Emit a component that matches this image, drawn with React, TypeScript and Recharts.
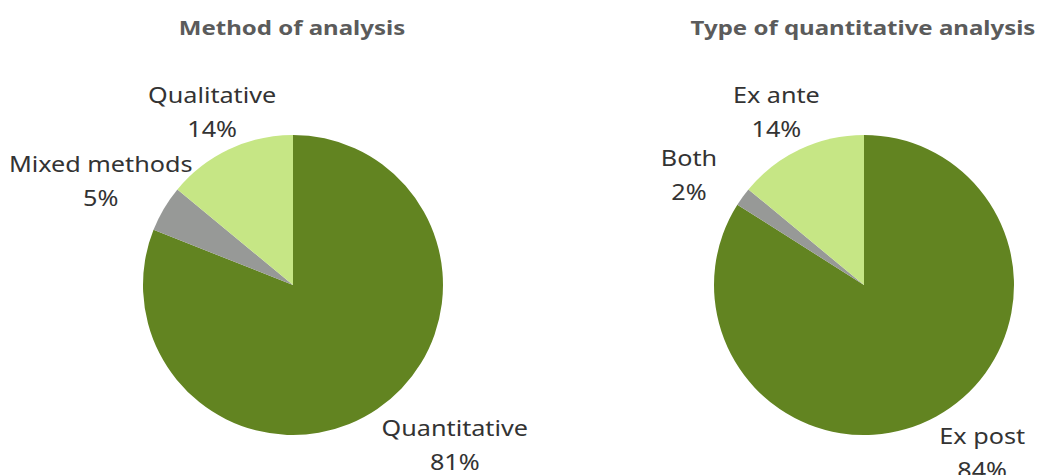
import React from "react"
import { PieChart, Pie, Cell } from "recharts"

const methodNames = ["Quantitative", "Mixed methods", "Qualitative"]
const methodValues = [81, 5, 14]

const quantNames = ["Ex post", "Both", "Ex ante"]
const quantValues = [84, 2, 14]

const sliceColors = ["#628421", "#979997", "#c6e685"]

// where each label block sits, in polar terms around the pie centre
const labelSpots: Record<string, { r: number; angle?: number }> = {
  Quantitative: { r: 228, angle: -44.8 },
  "Mixed methods": { r: 218, angle: 151.9 },
  Qualitative: { r: 190 },
  "Ex post": { r: 206, angle: -55 },
  Both: { r: 206, angle: 148.2 },
  "Ex ante": { r: 193, angle: 117 },
}

const methodData = methodNames.map((name, i) => ({ name, value: methodValues[i] }))
const quantData = quantNames.map((name, i) => ({ name, value: quantValues[i] }))

const RAD = Math.PI / 180
const labelFont = "'Noto Sans', 'Open Sans', sans-serif"
// the source text is drawn a bit wide
const stretch = 1.2

function renderLabel(props: any) {
  const { cx, cy, midAngle, name, value } = props
  const spot = labelSpots[name] || { r: 200 }
  const a = spot.angle ?? midAngle
  const x = cx + spot.r * Math.cos(a * RAD)
  const y = cy - spot.r * Math.sin(a * RAD)
  return (
    <text
      x={0}
      y={0}
      transform={`translate(${x},${y}) scale(${stretch},1)`}
      textAnchor="middle"
      fill="#333333"
      fontSize={21}
      fontFamily={labelFont}
    >
      <tspan x={0} dy={-10}>{name}</tspan>
      <tspan x={0} dy={34}>{`${value}%`}</tspan>
    </text>
  )
}

const titleStyle: React.CSSProperties = {
  position: "absolute",
  top: 14,
  width: 400,
  textAlign: "center",
  fontFamily: labelFont,
  fontWeight: 700,
  fontSize: 20,
  color: "#5b5b5b",
  transform: `scaleX(${stretch})`,
  transformOrigin: "center",
}

export default function App() {
  return (
    <div style={{ position: "absolute", left: 0, top: 0, width: 1037, height: 475, background: "#fff", overflow: "hidden" }}>
      <div style={{ ...titleStyle, left: 292 - 200 }}>Method of analysis</div>
      <div style={{ ...titleStyle, left: 863 - 200 }}>Type of quantitative analysis</div>
      <PieChart width={1037} height={475} margin={{ top: 0, right: 0, bottom: 0, left: 0 }}>
        <Pie
          data={methodData}
          dataKey="value"
          nameKey="name"
          cx={293}
          cy={285}
          outerRadius={150}
          startAngle={90}
          endAngle={-270}
          stroke="none"
          label={renderLabel}
          labelLine={false}
          isAnimationActive={false}
        >
          {methodData.map((d, i) => (
            <Cell key={`m-${i}`} fill={sliceColors[i]} />
          ))}
        </Pie>
        <Pie
          data={quantData}
          dataKey="value"
          nameKey="name"
          cx={864}
          cy={285}
          outerRadius={150}
          startAngle={90}
          endAngle={-270}
          stroke="none"
          label={renderLabel}
          labelLine={false}
          isAnimationActive={false}
        >
          {quantData.map((d, i) => (
            <Cell key={`q-${i}`} fill={sliceColors[i]} />
          ))}
        </Pie>
      </PieChart>
    </div>
  )
}
